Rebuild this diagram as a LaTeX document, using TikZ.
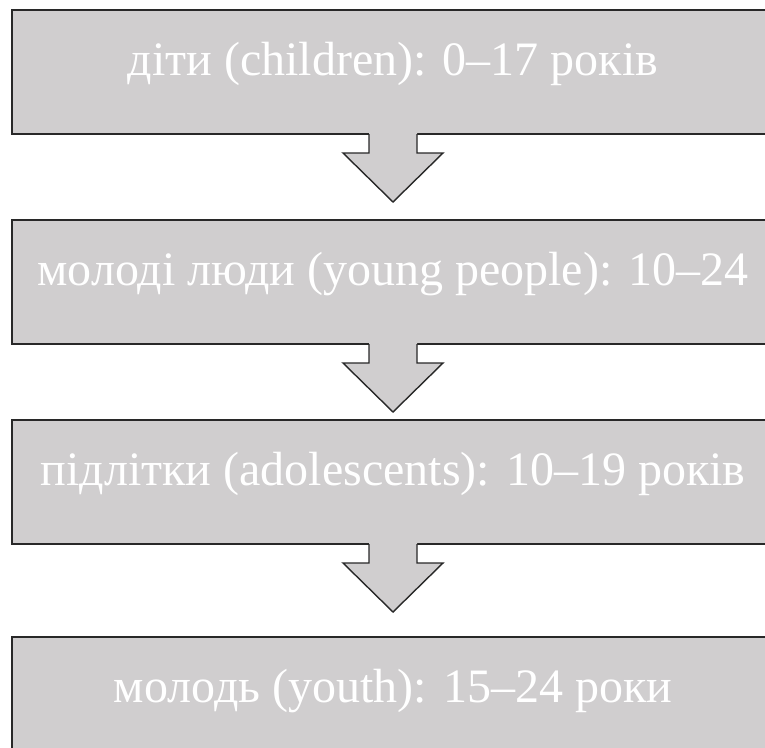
\documentclass[tikz,border=0pt]{standalone}
\usepackage{fontspec}
\setmainfont{Liberation Serif}
\newfontfamily\tnrfont{Liberation Serif}
\definecolor{boxgray}{RGB}{208,206,207}
\definecolor{edge}{RGB}{40,40,40}
\begin{document}
\begin{tikzpicture}[x=1pt,y=-1pt,
  stage/.style={draw=edge, line width=1.8pt, fill=boxgray, text=white,
    minimum width=762pt, inner sep=0pt, outer sep=0pt,
    text height=65pt, text depth=59pt,
    font=\tnrfont\fontsize{48}{58}\selectfont, anchor=north west},
  flowfill/.style={fill=boxgray},
  flowline/.style={draw=edge, line width=1.4pt, line join=miter}]
\useasboundingbox (0,0) rectangle (765,747);
\clip (0,0) rectangle (765,747);
\fill[white] (0,0) rectangle (765,747);
\node[stage] (b1) at (12,10)  {діти (children): 0–17 років};
\node[stage] (b2) at (12,220) {молоді люди (young people): 10–24};
\node[stage] (b3) at (12,420) {підлітки (adolescents): 10–19 років};
\node[stage] (b4) at (12,637) {молодь (youth): 15–24 роки};
\foreach \a in {b1,b2,b3} {
  \fill[flowfill] ([shift={(-24,-1.5)}]\a.south) -- ([shift={(-24,19)}]\a.south)
    -- ([shift={(-50,19)}]\a.south) -- ([shift={(0,68)}]\a.south)
    -- ([shift={(50,19)}]\a.south) -- ([shift={(24,19)}]\a.south)
    -- ([shift={(24,-1.5)}]\a.south) -- cycle;
  \draw[flowline] ([shift={(-24,0)}]\a.south) -- ([shift={(-24,19)}]\a.south)
    -- ([shift={(-50,19)}]\a.south) -- ([shift={(0,68)}]\a.south)
    -- ([shift={(50,19)}]\a.south) -- ([shift={(24,19)}]\a.south)
    -- ([shift={(24,0)}]\a.south);
}
\end{tikzpicture}
\end{document}
